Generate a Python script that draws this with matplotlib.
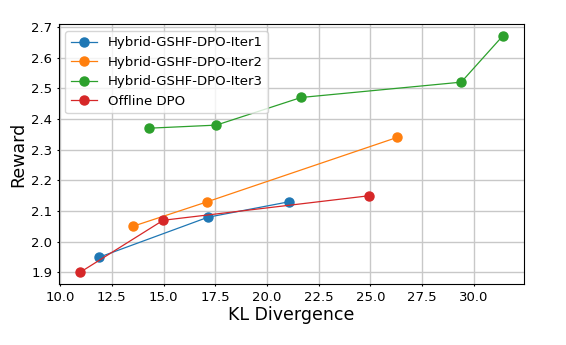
import numpy as np
import matplotlib
matplotlib.use("Agg")
import matplotlib.pyplot as plt

# KL divergence / reward per run
iter1_kl = [11.9, 17.15, 21.05]
iter1_reward = [1.95, 2.08, 2.13]

iter2_kl = [13.5, 17.1, 26.3]
iter2_reward = [2.05, 2.13, 2.34]

iter3_kl = [14.3, 17.55, 21.65, 29.4, 31.4]
iter3_reward = [2.37, 2.38, 2.47, 2.52, 2.67]

offline_kl = [10.95, 14.98, 24.95]
offline_reward = [1.90, 2.07, 2.15]

labels = ["Hybrid-GSHF-DPO-Iter1", "Hybrid-GSHF-DPO-Iter2",
          "Hybrid-GSHF-DPO-Iter3", "Offline DPO"]

fig = plt.figure(figsize=(5.66, 3.45), dpi=100)
ax = fig.add_axes([0.1037, 0.176, 0.8216, 0.7536])

series = [(iter1_kl, iter1_reward), (iter2_kl, iter2_reward),
          (iter3_kl, iter3_reward), (offline_kl, offline_reward)]
for (x, y), lab in zip(series, labels):
    ax.plot(x, y, 'o-', lw=0.9, markersize=6.5, label=lab)

ax.grid(True, color='#c8c8c8', lw=1)
ax.set_axisbelow(True)
ax.set_xlabel('KL Divergence', fontsize=12.5, labelpad=1.5)
ax.set_ylabel('Reward', fontsize=12.5, labelpad=3)
ax.tick_params(labelsize=9.5, length=1.5, pad=3)
ax.legend(loc='upper left', fontsize=9.5)

fig.savefig('out.png', dpi=100)
